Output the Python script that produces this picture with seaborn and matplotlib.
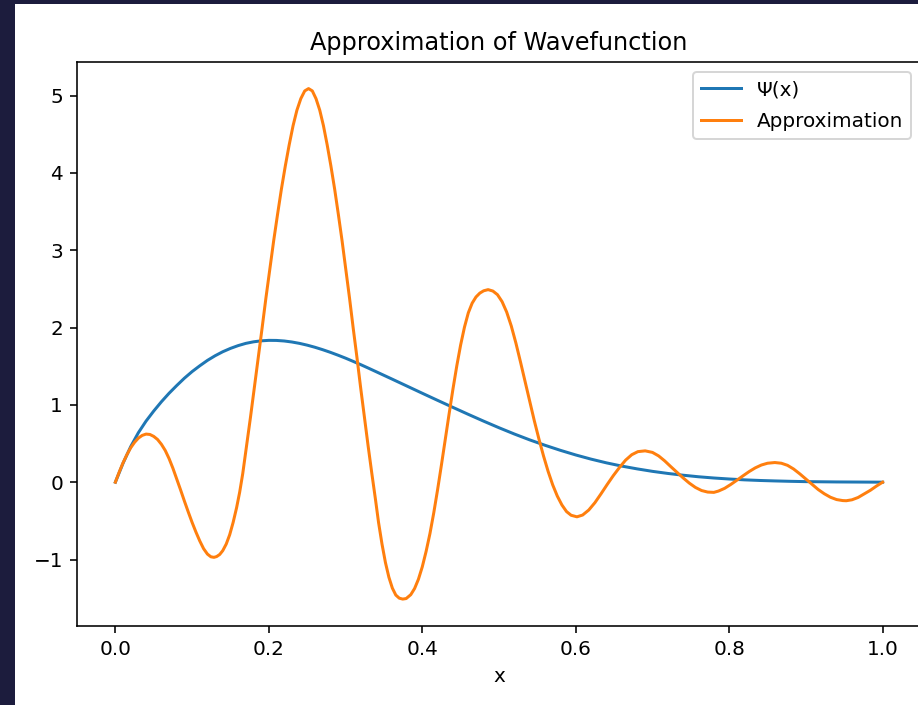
import numpy as np
import pandas as pd
import seaborn as sns
import matplotlib
matplotlib.use("Agg")
import matplotlib.pyplot as plt
from matplotlib.patches import Rectangle

# values
psi_x = [0.00, 0.01, 0.02, 0.03, 0.04, 0.05, 0.06, 0.07, 0.08, 0.09,
         0.10, 0.11, 0.12, 0.13, 0.14, 0.15, 0.16, 0.17, 0.18, 0.19,
         0.20, 0.21, 0.22, 0.23, 0.24, 0.25, 0.26, 0.27, 0.28, 0.29,
         0.30, 0.31, 0.32, 0.33, 0.34,
         0.36, 0.38, 0.40, 0.42, 0.44, 0.46, 0.48, 0.50, 0.52, 0.54,
         0.56, 0.58, 0.60, 0.62, 0.64, 0.66, 0.68, 0.70, 0.72, 0.74,
         0.76, 0.78, 0.80, 0.82, 0.84, 0.86, 0.88, 0.90, 0.92, 0.94,
         0.96, 0.98, 1.00]
psi_y = [0.000, 0.245, 0.460, 0.640, 0.790, 0.920, 1.040, 1.150, 1.250, 1.345,
         1.430, 1.505, 1.575, 1.635, 1.687, 1.730, 1.766, 1.795, 1.815, 1.828,
         1.834, 1.833, 1.826, 1.813, 1.795, 1.772, 1.745, 1.714, 1.680, 1.643,
         1.604, 1.562, 1.519, 1.474, 1.428,
         1.336, 1.243, 1.150, 1.058, 0.967, 0.877, 0.789, 0.704, 0.623, 0.547,
         0.477, 0.412, 0.352, 0.298, 0.250, 0.208, 0.172, 0.140, 0.113, 0.090,
         0.070, 0.054, 0.041, 0.030, 0.022, 0.016, 0.011, 0.007, 0.005, 0.003,
         0.002, 0.001, 0.000]

approx_x = [
    0.000, 0.005, 0.010, 0.015, 0.020, 0.025, 0.030, 0.035, 0.040, 0.045, 0.050, 0.055, 0.060,
    0.065, 0.070, 0.075, 0.080, 0.085, 0.090, 0.095, 0.100, 0.105, 0.110, 0.115, 0.120,
    0.1245, 0.1285, 0.1320, 0.1360, 0.1400, 0.1445, 0.1490, 0.1535, 0.1580, 0.1620, 0.1660,
    0.1710, 0.1761, 0.1811, 0.1862, 0.1912, 0.1962, 0.2013, 0.2063, 0.2114, 0.2164, 0.2215,
    0.2265, 0.2316, 0.2366, 0.2417, 0.2468, 0.2518,
    0.2567, 0.2615, 0.2664, 0.2712, 0.2761, 0.2809, 0.2858, 0.2906, 0.2955, 0.3003, 0.3052,
    0.3100, 0.3149, 0.3197, 0.3246, 0.3294, 0.3343, 0.3391, 0.3430, 0.3475, 0.3520, 0.3565,
    0.3610, 0.3655, 0.3700, 0.3745, 0.3790,
    0.3850, 0.3900, 0.3950, 0.4000, 0.4050, 0.4100, 0.4150, 0.4200, 0.4250, 0.4300, 0.4350,
    0.4400, 0.4450, 0.4500, 0.4550, 0.4600, 0.4650, 0.4700, 0.4750, 0.4800, 0.4858,
    0.4920, 0.4980, 0.5040, 0.5100, 0.5160, 0.5220, 0.5280, 0.5340, 0.5400, 0.5460, 0.5520,
    0.5580, 0.5640, 0.5700, 0.5760, 0.5820, 0.5880, 0.5940, 0.6016,
    0.6090, 0.6170, 0.6250, 0.6330, 0.6410, 0.6490, 0.6570, 0.6650, 0.6730, 0.6810, 0.6905,
    0.7000, 0.7080, 0.7160, 0.7240, 0.7320, 0.7400, 0.7480, 0.7560, 0.7640, 0.7720,
    0.7800, 0.7860, 0.7940, 0.8020, 0.8100, 0.8180, 0.8260, 0.8340, 0.8420, 0.8500, 0.8595,
    0.8680, 0.8760, 0.8840, 0.8920, 0.9000, 0.9080, 0.9160, 0.9240, 0.9320, 0.9400, 0.9480,
    0.9526, 0.9600, 0.9680, 0.9760, 0.9840, 0.9920, 1.0000]
approx_y = [
    0.000, 0.130, 0.250, 0.355, 0.445, 0.515, 0.570, 0.605, 0.622, 0.617, 0.592, 0.552, 0.490,
    0.410, 0.305, 0.180, 0.040, -0.100, -0.245, -0.385, -0.520, -0.645, -0.760, -0.860, -0.930,
    -0.965, -0.972, -0.962, -0.935, -0.885, -0.800, -0.680, -0.520, -0.330, -0.130, 0.110,
    0.470, 0.840, 1.220, 1.610, 1.990, 2.380, 2.755, 3.120, 3.465, 3.790, 4.090,
    4.360, 4.610, 4.810, 4.960, 5.060, 5.090,
    5.060, 4.960, 4.810, 4.610, 4.360, 4.090, 3.790, 3.465, 3.120, 2.755, 2.380,
    1.990, 1.610, 1.220, 0.840, 0.470, 0.110, -0.230, -0.520, -0.800, -1.040, -1.230,
    -1.370, -1.460, -1.500, -1.512, -1.505,
    -1.455, -1.375, -1.255, -1.095, -0.895, -0.665, -0.395, -0.095, 0.225, 0.555, 0.885,
    1.205, 1.505, 1.775, 2.005, 2.190, 2.315, 2.395, 2.445, 2.475, 2.490,
    2.472, 2.425, 2.335, 2.200, 2.020, 1.800, 1.555, 1.300, 1.045, 0.795, 0.560,
    0.340, 0.140, -0.035, -0.180, -0.295, -0.380, -0.428, -0.448,
    -0.425, -0.360, -0.265, -0.150, -0.030, 0.085, 0.190, 0.285, 0.355, 0.395, 0.405,
    0.385, 0.340, 0.275, 0.200, 0.128, 0.055, -0.012, -0.068, -0.108, -0.128,
    -0.132, -0.115, -0.080, -0.030, 0.025, 0.082, 0.137, 0.185, 0.222, 0.245, 0.254,
    0.245, 0.218, 0.170, 0.108, 0.040, -0.028, -0.095, -0.150, -0.195, -0.225, -0.238,
    -0.240, -0.228, -0.198, -0.152, -0.105, -0.050, 0.000]

series_labels = ["\u03a8(x)", "Approximation"]

df_psi = pd.DataFrame({"x": psi_x, "y": psi_y})
df_approx = pd.DataFrame({"x": approx_x, "y": approx_y})

# screenshot is at ~144 dpi, right edge of the plot is cut off
dpi = 144
fig = plt.figure(figsize=(918 / dpi, 705 / dpi), dpi=dpi)
fig.patch.set_facecolor("white")

# dark frame from the screenshot
frame = "#1c1c3d"
fig.patches.append(Rectangle((0, 0), 15 / 918, 1, transform=fig.transFigure,
                             facecolor=frame, edgecolor="none", zorder=0))
fig.patches.append(Rectangle((0, 1 - 4 / 705), 1, 4 / 705, transform=fig.transFigure,
                             facecolor=frame, edgecolor="none", zorder=0))

ax = fig.add_axes([77 / 918, (705 - 626) / 705, (921 - 77) / 918, (626 - 62.3) / 705])

sns.lineplot(data=df_psi, x="x", y="y", ax=ax, label=series_labels[0], color="#1f77b4", linewidth=1.5)
sns.lineplot(data=df_approx, x="x", y="y", ax=ax, label=series_labels[1], color="#ff7f0e", linewidth=1.5)

ax.set_xlim(-0.05, 1.05)
ax.set_ylim(-1.86, 5.43)
ax.set_xlabel("x")
ax.set_ylabel("")
ax.set_title("Approximation of Wavefunction")
ax.legend(loc="upper right", labelspacing=0.65)

fig.savefig("out.png", dpi=dpi)
